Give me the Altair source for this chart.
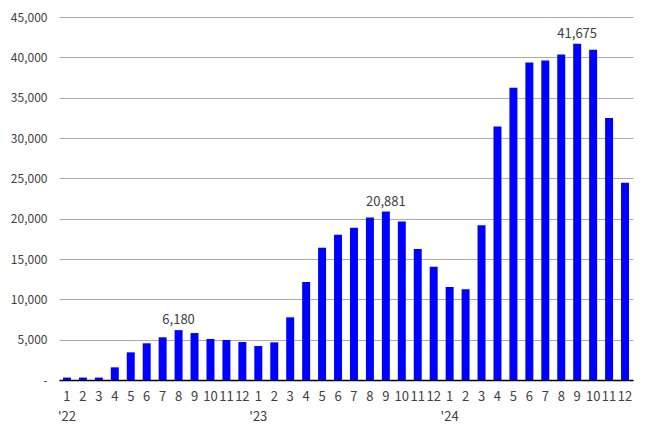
import altair as alt
import pandas as pd

months = [1,2,3,4,5,6,7,8,9,10,11,12]*3
values = [300, 300, 300, 1570, 3430, 4550, 5290, 6180, 5820, 5080, 4960, 4710,
          4210, 4670, 7770, 12140, 16400, 18000, 18870, 20160, 20881, 19660, 16230, 14040,
          11520, 11240, 19170, 31440, 36220, 39360, 39610, 40350, 41675, 40930, 32470, 24450]
annot = {7: "6,180", 20: "20,881", 32: "41,675"}
years = ["'22", "'23", "'24"]

df = pd.DataFrame({
    "idx": list(range(36)),
    "month": [str(m) for m in months],
    "value": values,
    "label": [annot.get(i, "") for i in range(36)],
})
ydf = pd.DataFrame({"idx": [0, 12, 24], "year": years})

FONT = "Noto Sans CJK KR"
idx_order = list(range(36))
xenc = alt.X("idx:O", sort=idx_order, scale=alt.Scale(domain=idx_order, paddingInner=0.5, paddingOuter=0.25),
             axis=alt.Axis(title=None, labelExpr="datum.value % 12 + 1", labelAngle=0, ticks=False,
                           domainColor="#000000", domainWidth=1.5, labelPadding=10,
                           labelFontSize=13, labelColor="#404040", labelFont=FONT))

bars = alt.Chart(df).mark_bar(color="#0000ff").encode(
    x=xenc,
    y=alt.Y("value:Q", scale=alt.Scale(domain=[0, 45000]),
            axis=alt.Axis(title=None, values=list(range(0, 45001, 5000)),
                          labelExpr="datum.value == 0 ? '-' : format(datum.value, ',')",
                          ticks=False, domain=False, labelPadding=12,
                          gridColor="#ababab", gridWidth=1,
                          labelFontSize=12, labelColor="#404040", labelFont=FONT)),
)

text = alt.Chart(df).transform_filter("datum.label != ''").mark_text(
    dy=-10, fontSize=13, color="#404040", font=FONT
).encode(x=alt.X("idx:O", sort=idx_order), y="value:Q", text="label:N")

yr = alt.Chart(ydf).mark_text(fontSize=13, color="#404040", font=FONT, baseline="middle").encode(
    x=alt.X("idx:O", sort=idx_order), y=alt.value(400), text="year:N")

chart = alt.layer(bars, text, yr).properties(
    width=574, height=363,
    autosize=alt.AutoSizeParams(type="none"),
    padding={"left": 59, "top": 17, "right": 13, "bottom": 53},
).configure_view(stroke=None).configure_axisX(grid=False)

chart.save("out.html", embed_options={"renderer": "svg", "actions": False})
